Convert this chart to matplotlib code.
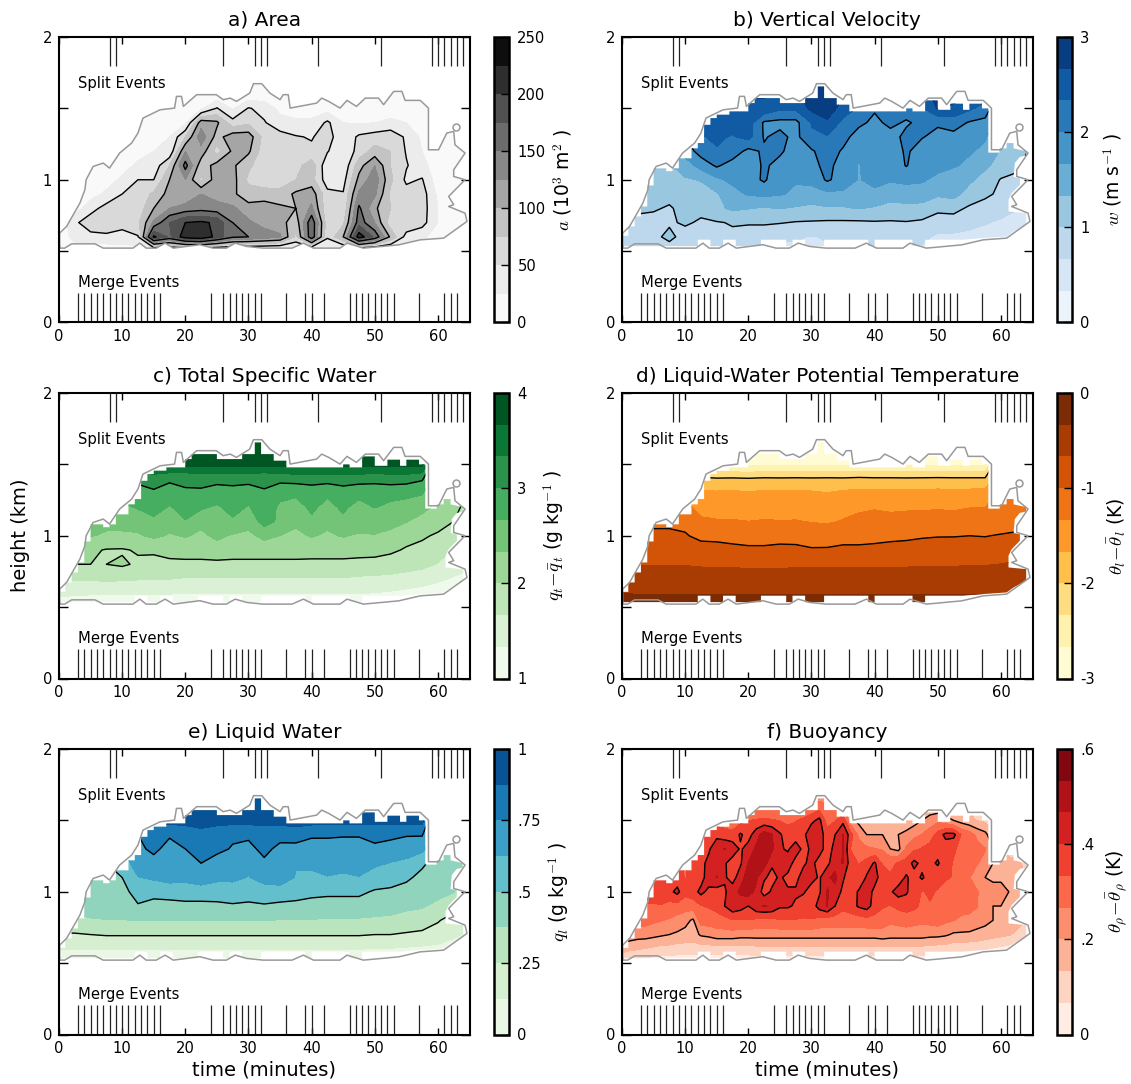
import numpy as np
import matplotlib
matplotlib.use("Agg")
import matplotlib.pyplot as plt
from matplotlib.patches import Polygon

plt.rcParams.update({
    "font.family": "DejaVu Sans",
    "mathtext.fontset": "cm",
    "mathtext.default": "it",
    "axes.linewidth": 1.5,
    "contour.negative_linestyle": "solid",
})

heights = np.arange(0.5, 1.71, 0.1)

split_events = [8, 9, 26, 31, 32, 33, 41, 51, 59, 60, 61, 62, 63, 64, 65]
merge_events = [3, 4, 5, 6, 7, 8, 9, 10, 11, 12, 13, 14, 15, 16, 24, 26, 27, 28, 29, 30, 31, 32,
                36, 39, 40, 42, 46, 47, 48, 49, 50, 51, 52, 53, 57, 61, 62, 63]

# cloud outline, time (min) and height (km)
outline_t = [0.1, 0.1, 1.2, 2.1, 3.3, 4.1, 4.3, 5.4, 7.0, 8.0, 9.6, 11.5, 12.5, 13.3, 16, 18.3, 18.6, 19.4,
             19.7, 21.8, 24.9, 26, 27.1, 28.1, 30.2, 30.8, 32.1, 33.4, 35, 35.5, 36.3, 36.6, 40.8, 41.6,
             42.7, 44.5, 45.6, 47.1, 48.5, 50.6, 51.4, 53, 54.3, 54.8, 57.2, 58.5, 58.5, 60.1, 61.4,
             62.5, 62.7, 64.3, 62.5, 62.5, 64.3, 61.7, 62.5, 61.7, 64.3, 64.6, 60.9, 57.2, 53.8, 48.2,
             45.6, 44.5, 40.3, 38.7, 36.9, 32.3, 29.7, 27.9, 26.5, 24.4, 22.3, 18.1, 16.8, 15.4, 13.8,
             12.8, 11.7, 7, 5.7, 2, 0.9, 0.1]
outline_z = [.533, .626, .673, .743, .836, .93, 1.0, 1.093, 1.117, 1.082, 1.187, 1.257, 1.327, 1.432, 1.49,
             1.502, 1.584, 1.584, 1.514, 1.596, 1.596, 1.561, 1.572, 1.549, 1.607, 1.673, 1.673, 1.607,
             1.561, 1.596, 1.596, 1.502, 1.537, 1.572, 1.549, 1.502, 1.556, 1.514, 1.572, 1.572, 1.526,
             1.619, 1.619, 1.556, 1.556, 1.502, 1.21, 1.21, 1.327, 1.339, 1.245, 1.187, 1.07, 1.023, 1.0,
             .883, .825, .813, .766, .708, .591, .579, .544, .521, .556, .521, .521, .556, .521, .521,
             .533, .556, .521, .521, .545, .521, .556, .521, .521, .556, .521, .521, .551, .551, .521, .521]
bubble_t = [62.9]
bubble_z = [1.37]

# top and bottom of the filled cells, one value per minute
fill_top = [.607, .673, .743, .813, .96, 1.08, 1.08, 1.06, 1.08, 1.15, 1.15, 1.22, 1.257, 1.385, 1.432, 1.456,
            1.456, 1.479, 1.479, 1.479, 1.537, 1.572, 1.572, 1.572, 1.572, 1.537, 1.537, 1.537, 1.537, 1.572,
            1.572, 1.654, 1.572, 1.572, 1.526, 1.526, 1.479, 1.479, 1.479, 1.479, 1.479, 1.479, 1.479, 1.479,
            1.479, 1.50, 1.479, 1.479, 1.556, 1.556, 1.49, 1.49, 1.533, 1.533, 1.49, 1.533, 1.533, 1.50]
fill_bot = [.535, .535, .535, .535, .535, .535, .535, .535, .535, .535, .535, .535, .58, .58, .535, .535, .58, .58,
            .535, .535, .535, .535, .58, .58, .58, .58, .535, .58, .58, .535, .535, .535, .58, .58, .58, .58, .58,
            .58, .58, .535, .58, .58, .58, .58, .58, .58, .535, .535, .58, .58, .58, .58, .58, .58]
edge_t = [58, 59.8, 59.8, 60.9, 60.9, 62, 62, 64, 64, 63, 62.2, 62, 63, 63, 61.7, 61.2, 61.2, 64, 64, 62, 60.9, 56.7, 54]
edge_z = [1.19, 1.19, 1.22, 1.22, 1.257, 1.257, 1.22, 1.2, 1.17, 1.16, 1.117, 1.02, 1.01, .965, .906, .86, .778,
          .766, .685, .638, .603, .59, .58]

# fields: first row is the lowest height, columns run over time
area = [
    [5, 8, 8, 8, 8, 10, 0, 0, 0, 0, 0, 0, 0, 0, 0, 15, 0, 10, 10, 0, 0, 10, 8, 5, 3, 1, 0],
    [6, 35, 42, 42, 45, 48, 205, 170, 215, 225, 190, 155, 150, 140, 130, 70, 170, 55, 100, 215, 170, 95, 40, 30, 15, 2, 0],
    [4, 45, 65, 75, 55, 70, 130, 175, 200, 205, 195, 150, 130, 115, 110, 85, 170, 60, 70, 165, 125, 60, 70, 60, 25, 6, 1],
    [3, 12, 40, 60, 70, 60, 100, 125, 135, 140, 135, 130, 110, 110, 105, 100, 130, 55, 55, 155, 105, 75, 65, 62, 25, 8, 1],
    [1, 3, 15, 30, 50, 60, 80, 110, 105, 125, 115, 105, 85, 90, 85, 105, 115, 58, 52, 130, 130, 70, 60, 62, 20, 5, 1],
    [1, 2, 8, 14, 30, 50, 50, 100, 125, 70, 115, 110, 70, 55, 60, 75, 85, 35, 40, 108, 140, 80, 45, 52, 10, 4, 1],
    [1, 1, 3, 8, 15, 30, 35, 75, 160, 85, 110, 105, 80, 60, 62, 65, 90, 30, 30, 90, 125, 75, 52, 35, 8, 3, 1],
    [1, 1, 2, 4, 8, 15, 25, 30, 125, 115, 65, 105, 105, 60, 60, 55, 55, 52, 28, 60, 85, 75, 48, 25, 5, 2, 1],
    [1, 1, 1, 2, 4, 8, 18, 25, 75, 140, 90, 115, 115, 65, 60, 52, 48, 62, 30, 55, 62, 70, 45, 20, 4, 2, 1],
    [1, 1, 1, 1, 2, 4, 14, 18, 20, 115, 105, 60, 70, 52, 35, 30, 30, 55, 25, 22, 25, 28, 25, 15, 2, 1, 1],
    [1, 1, 1, 1, 1, 1, 8, 10, 14, 20, 52, 22, 52, 42, 18, 12, 14, 14, 12, 16, 18, 18, 16, 12, 2, 1, 1],
    [1, 1, 1, 1, 1, 1, 1, 2, 4, 6, 6, 6, 6, 6, 4, 3, 3, 3, 3, 5, 6, 6, 6, 3, 1, 1, 1],
    [1, 1, 1, 1, 1, 1, 1, 1, 1, 1, 1, 1, 1, 1, 1, 1, 1, 1, 1, 1, 1, 1, 1, 1, 1, 1, 1],
]

velocity = [
    [.7, .7, .7, .8, .7, .6, .7, .7, .6, .6, .6, .6, .5, .6, .6, .7, .7, .6, .6, .6, .5, .5, .5, .4, .4, .3, .2],
    [.8, .8, .9, 1.1, .85, .8, .9, .95, .75, .75, .7, .7, .65, .7, .75, .8, .85, .7, .7, .75, .6, .6, .55, .5, .45, .4, .3],
    [.9, .85, .85, .95, 1.05, .95, .98, 1.02, 1.05, 1.05, 1.02, .98, .97, .95, .95, .95, .97, .97, .98, .95, .9, .85, .8, .7, .6, .45, .3],
    [1.1, 1.1, 1.05, .95, 1.15, 1.1, 1.25, 1.4, 1.35, 1.3, 1.35, 1.3, 1.25, 1.3, 1.3, 1.35, 1.3, 1.2, 1.25, 1.2, 1.05, 1.1, .95, .9, .85, .7, .5],
    [1.1, 1.1, 1.1, 1.15, 1.2, 1.2, 1.3, 1.55, 1.7, 1.75, 1.7, 1.6, 1.55, 1.6, 1.6, 1.55, 1.6, 1.5, 1.5, 1.55, 1.4, 1.45, 1.2, 1.05, .95, .85, .6],
    [1.1, 1.1, 1.1, 1.15, 1.3, 1.35, 1.6, 1.75, 1.85, 2.05, 1.75, 1.7, 1.75, 2.05, 1.85, 1.65, 1.75, 1.7, 1.75, 1.7, 1.6, 1.5, 1.4, 1.2, .98, .9, .7],
    [1.2, 1.2, 1.2, 1.3, 1.5, 1.8, 2.05, 1.85, 1.8, 2.05, 1.9, 1.75, 1.9, 2.1, 1.85, 1.65, 1.85, 1.75, 2.02, 1.8, 1.75, 1.7, 1.6, 1.4, 1.2, 1.1, .8],
    [1.3, 1.3, 1.3, 1.5, 1.8, 2.15, 2.3, 2.2, 1.9, 2.05, 2.05, 1.85, 1.95, 2.2, 1.95, 1.7, 1.8, 1.8, 2.05, 1.85, 1.85, 1.8, 1.7, 1.6, 1.3, 1.2, .9],
    [1.4, 1.4, 1.5, 1.8, 2.0, 2.3, 2.4, 2.3, 2.45, 1.97, 2.1, 1.9, 2.3, 2.3, 2.15, 1.8, 1.85, 1.85, 2.1, 2.02, 1.9, 1.9, 1.9, 1.7, 1.4, 1.2, .9],
    [1.5, 1.5, 1.7, 2.0, 2.2, 2.5, 2.55, 2.5, 2.5, 1.95, 1.9, 1.9, 2.35, 2.6, 2.25, 2.1, 1.9, 2.1, 1.95, 2.1, 2.05, 2.15, 1.97, 1.9, 1.5, 1.2, .9],
    [1.6, 1.6, 1.8, 2.1, 2.3, 2.5, 2.5, 2.5, 2.55, 2.6, 2.4, 2.4, 2.75, 2.9, 2.5, 2.3, 2.05, 2.2, 2.2, 2.3, 2.7, 2.6, 2.4, 2.2, 1.6, 1.2, .9],
    [1.6, 1.6, 1.8, 2.1, 2.3, 2.5, 2.6, 2.6, 2.7, 2.7, 2.6, 2.6, 2.9, 2.95, 2.7, 2.5, 2.3, 2.4, 2.4, 2.5, 2.8, 2.8, 2.8, 2.5, 1.6, 1.2, .9],
    [1.6, 1.6, 1.8, 2.1, 2.3, 2.5, 2.6, 2.6, 2.7, 2.7, 2.7, 2.7, 2.9, 2.95, 2.7, 2.5, 2.3, 2.4, 2.4, 2.5, 2.8, 2.8, 2.8, 2.5, 1.6, 1.2, .9],
]

water = [
    [1.05, 1.05, 1.05, 1.05, 1.05, 1.05, 1.05, 1.05, 1.05, 1.05, 1.05, 1.05, 1.05, 1.05, 1.05, 1.05, 1.05, 1.05, 1.05, 1.05, 1.05, 1.03, 1.02, 1.01, 1.0, 1.0, 1.0],
    [1.45, 1.4, 1.38, 1.37, 1.36, 1.36, 1.36, 1.36, 1.35, 1.35, 1.35, 1.35, 1.35, 1.35, 1.35, 1.35, 1.35, 1.35, 1.35, 1.35, 1.33, 1.3, 1.25, 1.2, 1.15, 1.05, 1.0],
    [1.7, 1.7, 1.7, 1.75, 1.72, 1.7, 1.7, 1.68, 1.65, 1.65, 1.65, 1.65, 1.65, 1.65, 1.65, 1.65, 1.65, 1.65, 1.65, 1.62, 1.6, 1.58, 1.55, 1.5, 1.4, 1.3, 1.2],
    [2.0, 2.0, 2.0, 2.0, 2.05, 1.95, 1.9, 1.92, 1.92, 1.92, 1.92, 1.92, 1.92, 1.92, 1.92, 1.92, 1.92, 1.92, 1.92, 1.9, 1.9, 1.87, 1.8, 1.75, 1.65, 1.55, 1.4],
    [2.2, 2.2, 2.05, 1.98, 1.97, 2.03, 2.05, 2.12, 2.15, 2.15, 2.2, 2.15, 2.15, 2.15, 2.15, 2.15, 2.13, 2.13, 2.13, 2.12, 2.1, 2.05, 1.97, 1.9, 1.8, 1.65, 1.4],
    [2.3, 2.3, 2.35, 2.3, 2.3, 2.3, 2.4, 2.3, 2.36, 2.27, 2.4, 2.3, 2.26, 2.42, 2.33, 2.26, 2.36, 2.28, 2.36, 2.28, 2.32, 2.2, 2.1, 2.05, 1.95, 1.8, 1.5],
    [2.4, 2.4, 2.4, 2.4, 2.4, 2.45, 2.6, 2.5, 2.65, 2.42, 2.55, 2.62, 2.45, 2.8, 2.6, 2.4, 2.62, 2.42, 2.6, 2.58, 2.45, 2.5, 2.35, 2.2, 2.15, 2.0, 1.7],
    [2.5, 2.5, 2.5, 2.5, 2.6, 2.7, 2.8, 2.64, 2.8, 2.72, 2.62, 2.78, 2.64, 2.88, 2.6, 2.56, 2.72, 2.58, 2.72, 2.56, 2.68, 2.58, 2.55, 2.45, 2.25, 2.15, 1.8],
    [2.6, 2.6, 2.6, 2.7, 2.8, 2.85, 2.95, 2.88, 2.97, 2.95, 2.86, 2.9, 2.85, 2.98, 2.78, 2.72, 2.82, 2.72, 2.86, 2.76, 2.82, 2.8, 2.75, 2.7, 2.3, 2.2, 1.8],
    [2.7, 2.7, 2.7, 2.9, 3.0, 3.1, 3.15, 3.05, 3.05, 3.1, 3.1, 3.1, 3.1, 3.05, 3.1, 3.15, 3.15, 3.15, 3.15, 3.15, 3.1, 3.15, 3.15, 3.05, 2.4, 2.2, 1.8],
    [2.8, 2.8, 2.8, 3.0, 3.3, 3.6, 3.75, 3.75, 3.75, 3.75, 3.75, 3.75, 3.75, 3.75, 3.75, 3.75, 3.75, 3.75, 3.75, 3.75, 3.75, 3.75, 3.75, 3.75, 2.5, 2.2, 1.8],
    [2.9, 2.9, 2.9, 3.1, 3.4, 3.7, 3.95, 3.95, 3.95, 3.95, 3.95, 3.95, 3.95, 3.95, 3.95, 3.95, 3.95, 3.95, 3.95, 3.95, 3.95, 3.95, 3.95, 3.95, 2.5, 2.2, 1.8],
    [2.9, 2.9, 2.9, 3.1, 3.4, 3.7, 3.95, 3.95, 3.95, 3.95, 3.95, 3.95, 3.95, 3.95, 3.95, 3.95, 3.95, 3.95, 3.95, 3.95, 3.95, 3.95, 3.95, 3.95, 2.5, 2.2, 1.8],
]

theta = [
    [-.1, -.1, -.1, -.1, -.1, -.1, -.1, -.1, -.1, -.1, -.1, -.1, -.1, -.1, -.1, -.1, -.1, -.1, -.1, -.1, -.1, -.1, -.1, -.1, -.1, -.1, -.1],
    [-.34, -.36, -.36, -.36, -.36, -.36, -.36, -.36, -.36, -.36, -.36, -.36, -.36, -.36, -.36, -.36, -.36, -.36, -.36, -.36, -.36, -.36, -.36, -.37, -.38, -.4, -.4],
    [-.5, -.5, -.5, -.52, -.52, -.52, -.53, -.53, -.53, -.53, -.53, -.53, -.53, -.53, -.53, -.53, -.53, -.53, -.53, -.53, -.53, -.52, -.52, -.52, -.5, -.48, -.45],
    [-.68, -.68, -.68, -.68, -.68, -.7, -.71, -.71, -.72, -.72, -.72, -.71, -.71, -.71, -.71, -.71, -.7, -.7, -.7, -.69, -.69, -.69, -.68, -.68, -.66, -.62, -.58],
    [-.82, -.84, -.86, -.86, -.87, -.9, -.92, -.94, -.96, -.96, -.95, -.95, -.98, -.98, -.96, -.96, -.95, -.93, -.92, -.91, -.9, -.89, -.88, -.87, -.85, -.82, -.75],
    [-.95, -.95, -.98, -.97, -.98, -1.06, -1.06, -1.08, -1.09, -1.09, -1.07, -1.08, -1.1, -1.09, -1.07, -1.07, -1.06, -1.05, -1.04, -1.02, -1.01, -1.01, -1.0, -1.01, -.98, -.96, -.9],
    [-1.1, -1.05, -1.02, -1.03, -1.06, -1.26, -1.3, -1.31, -1.33, -1.31, -1.32, -1.31, -1.35, -1.38, -1.31, -1.26, -1.26, -1.25, -1.26, -1.25, -1.25, -1.25, -1.22, -1.2, -1.15, -1.1, -1.05],
    [-1.2, -1.2, -1.2, -1.2, -1.22, -1.48, -1.5, -1.47, -1.5, -1.47, -1.5, -1.52, -1.47, -1.55, -1.45, -1.38, -1.35, -1.38, -1.36, -1.36, -1.35, -1.36, -1.34, -1.33, -1.25, -1.2, -1.15],
    [-1.3, -1.3, -1.3, -1.4, -1.5, -1.6, -1.62, -1.6, -1.64, -1.6, -1.62, -1.6, -1.62, -1.66, -1.6, -1.58, -1.56, -1.58, -1.58, -1.58, -1.56, -1.58, -1.56, -1.55, -1.3, -1.25, -1.2],
    [-1.4, -1.4, -1.5, -1.7, -1.85, -1.95, -1.97, -1.96, -1.98, -1.95, -1.96, -1.95, -1.96, -1.95, -1.96, -1.93, -1.95, -1.95, -1.96, -1.95, -1.94, -1.95, -1.95, -1.95, -1.4, -1.3, -1.2],
    [-1.5, -1.5, -1.6, -1.9, -2.2, -2.5, -2.75, -2.75, -2.75, -2.75, -2.75, -2.75, -2.75, -2.75, -2.75, -2.75, -2.75, -2.75, -2.75, -2.75, -2.75, -2.75, -2.75, -2.75, -1.4, -1.3, -1.2],
    [-1.6, -1.6, -1.7, -2.0, -2.3, -2.6, -2.95, -2.95, -2.95, -2.95, -2.95, -2.95, -2.95, -2.95, -2.95, -2.95, -2.95, -2.95, -2.95, -2.95, -2.95, -2.95, -2.95, -2.95, -1.4, -1.3, -1.2],
    [-1.6, -1.6, -1.7, -2.0, -2.3, -2.6, -2.95, -2.95, -2.95, -2.95, -2.95, -2.95, -2.95, -2.95, -2.95, -2.95, -2.95, -2.95, -2.95, -2.95, -2.95, -2.95, -2.95, -2.95, -1.4, -1.3, -1.2],
]

liquid = [
    [0, 0, 0, 0, 0, 0, 0, 0, 0, 0, 0, 0, 0, 0, 0, 0, 0, 0, 0, 0, 0, 0, 0, 0, 0, 0, 0],
    [.13, .13, .13, .13, .13, .13, .13, .13, .13, .13, .13, .13, .13, .13, .13, .13, .13, .13, .13, .13, .12, .12, .11, .1, .09, .06, .03],
    [.24, .24, .25, .26, .26, .26, .26, .26, .26, .26, .26, .26, .26, .26, .26, .26, .26, .26, .26, .26, .25, .25, .24, .23, .2, .15, .1],
    [.33, .34, .36, .37, .37, .38, .38, .38, .38, .38, .38, .38, .38, .38, .37, .37, .37, .36, .36, .36, .35, .34, .31, .3, .26, .2, .15],
    [.42, .43, .45, .46, .47, .49, .48, .47, .47, .47, .47, .49, .48, .49, .47, .47, .46, .46, .46, .46, .45, .44, .41, .39, .34, .3, .22],
    [.45, .46, .45, .45, .46, .55, .52, .54, .56, .56, .57, .55, .55, .56, .58, .55, .53, .52, .52, .52, .49, .48, .46, .44, .42, .38, .3],
    [.45, .47, .47, .47, .5, .62, .65, .68, .66, .7, .65, .66, .62, .68, .68, .62, .6, .62, .6, .62, .56, .55, .52, .47, .42, .45, .3],
    [.47, .47, .48, .5, .55, .7, .72, .74, .73, .75, .7, .69, .65, .73, .71, .63, .65, .67, .68, .68, .65, .62, .6, .52, .45, .45, .3],
    [.5, .5, .5, .55, .62, .73, .77, .72, .75, .8, .78, .74, .72, .78, .72, .7, .66, .72, .7, .7, .73, .7, .68, .66, .5, .45, .3],
    [.5, .5, .55, .6, .7, .75, .78, .76, .8, .84, .8, .77, .77, .8, .79, .82, .78, .76, .76, .76, .78, .78, .76, .76, .5, .45, .3],
    [.5, .5, .55, .65, .75, .85, .9, .92, .92, .92, .92, .92, .92, .92, .92, .92, .92, .92, .92, .92, .92, .92, .92, .92, .5, .45, .3],
    [.5, .5, .55, .65, .8, .9, .97, .97, .97, .97, .97, .97, .97, .97, .97, .97, .97, .97, .97, .97, .97, .97, .97, .97, .5, .45, .3],
    [.5, .5, .55, .65, .8, .9, .97, .97, .97, .97, .97, .97, .97, .97, .97, .97, .97, .97, .97, .97, .97, .97, .97, .97, .5, .45, .3],
]

# buoyancy is read on a finer time step because of its narrow streaks
buoyancy = [
    [.03, .03, .03, .03, .02, .02, .02, .02, .02, .02, .02, .02, .02, .02, .02, .02, .02, .02, .02, .02, .02, .02, .02, .02, .02, .02, .02,
     .02, .02, .02, .02, .02, .02, .02, .02, .02, .02, .02, .02, .02, .02, .02, .02, .02, .02, .02, .02, .02, .01, .01, .01, .01, .01],
    [.17, .15, .14, .13, .12, .11, .11, .1, .1, .1, .1, .1, .1, .1, .1, .1, .1, .11, .11, .11, .11, .11, .11, .11, .11, .11, .11,
     .11, .11, .11, .11, .11, .11, .11, .11, .11, .11, .11, .11, .11, .1, .1, .09, .09, .08, .08, .07, .06, .05, .04, .03, .02, .02],
    [.24, .24, .23, .23, .22, .21, .2, .19, .18, .17, .21, .22, .24, .24, .24, .23, .23, .23, .23, .23, .23, .23, .23, .23, .23, .23, .23,
     .23, .23, .23, .23, .23, .23, .24, .23, .23, .23, .23, .23, .22, .22, .21, .19, .19, .19, .18, .17, .16, .15, .14, .12, .1, .07],
    [.3, .3, .3, .29, .28, .27, .26, .24, .22, .19, .3, .3, .3, .31, .33, .33, .33, .32, .31, .31, .33, .33, .33, .33, .33, .31, .3,
     .3, .3, .3, .3, .31, .31, .3, .28, .29, .3, .29, .28, .29, .3, .28, .27, .25, .24, .23, .22, .2, .17, .18, .16, .14, .08],
    [.33, .33, .33, .33, .33, .33, .31, .31, .3, .3, .33, .34, .36, .4, .45, .43, .4, .45, .47, .46, .41, .41, .39, .35, .36, .43, .47,
     .4, .35, .37, .41, .43, .37, .34, .33, .35, .36, .35, .32, .33, .33, .31, .3, .3, .3, .27, .22, .2, .2, .18, .16, .13, .1],
    [.33, .33, .34, .35, .35, .36, .38, .42, .35, .37, .42, .38, .37, .39, .44, .48, .5, .45, .37, .41, .45, .41, .41, .41, .36, .39, .47,
     .45, .38, .36, .41, .44, .38, .35, .39, .43, .41, .36, .33, .34, .33, .31, .3, .3, .3, .27, .24, .22, .22, .2, .19, .15, .1],
    [.33, .33, .33, .33, .33, .34, .37, .36, .33, .35, .37, .44, .47, .41, .37, .44, .5, .48, .41, .38, .41, .38, .38, .43, .43, .39, .46,
     .48, .41, .35, .34, .41, .43, .36, .34, .36, .41, .37, .41, .37, .35, .34, .33, .3, .27, .24, .2, .19, .19, .18, .18, .14, .1],
    [.33, .33, .33, .33, .33, .33, .35, .34, .33, .35, .38, .42, .45, .41, .36, .39, .47, .5, .5, .41, .45, .44, .37, .39, .42, .37, .38,
     .45, .47, .36, .33, .36, .41, .33, .32, .34, .36, .42, .38, .38, .41, .35, .33, .31, .3, .27, .25, .2, .18, .16, .15, .12, .1],
    [.3, .3, .3, .3, .3, .3, .3, .3, .3, .33, .37, .39, .45, .47, .45, .39, .43, .48, .52, .48, .41, .39, .44, .38, .41, .43, .37,
     .42, .47, .33, .3, .28, .27, .26, .2, .18, .28, .32, .34, .36, .37, .36, .34, .32, .3, .29, .27, .2, .15, .1, .1, .1, .1],
    [.3, .3, .3, .3, .3, .3, .3, .3, .3, .3, .32, .36, .38, .36, .35, .41, .37, .44, .5, .47, .41, .36, .36, .38, .46, .43, .37,
     .4, .47, .36, .25, .2, .2, .2, .18, .2, .22, .25, .27, .3, .36, .42, .42, .33, .3, .25, .22, .15, .1, .1, .1, .1, .1],
    [.3, .3, .3, .3, .3, .3, .3, .3, .3, .3, .3, .3, .3, .3, .3, .31, .33, .34, .35, .34, .33, .32, .33, .35, .38, .42, .3,
     .33, .38, .22, .18, .18, .2, .18, .16, .15, .15, .17, .2, .23, .25, .22, .2, .17, .15, .13, .12, .1, .1, .1, .1, .1, .1],
    [.3, .3, .3, .3, .3, .3, .3, .3, .3, .3, .3, .3, .25, .25, .25, .25, .25, .25, .25, .25, .25, .25, .25, .26, .28, .3, .28,
     .27, .25, .15, .15, .15, .15, .15, .15, .15, .15, .15, .15, .15, .15, .15, .15, .13, .12, .11, .1, .1, .1, .1, .1, .1, .1],
    [.3, .3, .3, .3, .3, .3, .3, .3, .3, .3, .3, .3, .2, .2, .2, .2, .2, .2, .2, .2, .2, .2, .2, .2, .2, .2, .2,
     .2, .2, .1, .1, .1, .1, .1, .1, .1, .1, .1, .1, .1, .1, .1, .1, .1, .1, .1, .1, .1, .1, .1, .1, .1, .1],
]

panels = [
    ("a) Area", area, "Greys", 0, 250, 10, [50, 100, 150, 200], [0, 50, 100, 150, 200, 250],
     ["0", "50", "100", "150", "200", "250"], r"$a$ (10$^3$ m$^2$ )", 4.6),
    ("b) Vertical Velocity", velocity, "Blues", 0, 3, 9, [1, 2], [0, 1, 2, 3],
     ["0", "1", "2", "3"], r"$w$ (m s$^{-1}$ )", 3.7),
    ("c) Total Specific Water", water, "Greens", 1, 4, 9, [2, 3], [1, 2, 3, 4],
     ["1", "2", "3", "4"], r"$q_t\!-\!\bar{q}_t$ (g kg$^{-1}$ )", 4.0),
    ("d) Liquid-Water Potential Temperature", theta, "YlOrBr", -3, 0, 9, [-2, -1], [-3, -2, -1, 0],
     ["-3", "-2", "-1", "0"], r"$\theta_l\!-\!\bar{\theta}_l$ (K)", 4.0),
    ("e) Liquid Water", liquid, "GnBu", 0, 1, 8, [.25, .5, .75], [0, .25, .5, .75, 1],
     ["0", ".25", ".5", ".75", "1"], r"$q_l$ (g kg$^{-1}$ )", 4.3),
    ("f) Buoyancy", buoyancy, "Reds", 0, .6, 9, [.2, .4], [0, .2, .4, .6],
     ["0", ".2", ".4", ".6"], r"$\theta_\rho\!-\!\bar{\theta}_\rho$ (K)", 4.0),
]

W, H = 1131, 1084
fig = plt.figure(figsize=(W / 100, H / 100), dpi=100)

col_left = [59, 622]
row_top = [37, 393, 749]
ax_w, ax_h = 410.5, 285.5

# stepped polygon of the filled cells
fill_t, fill_z = [], []
for k, top in enumerate(fill_top):
    fill_t += [k, k + 1]
    fill_z += [top, top]
fill_t += edge_t
fill_z += edge_z
for k in range(len(fill_bot) - 1, -1, -1):
    fill_t += [k + 1, k]
    fill_z += [fill_bot[k], fill_bot[k]]

for n, (title, field, cmap, vmin, vmax, nbins, lines, cticks, clabels, clabel, label_x) in enumerate(panels):
    left = col_left[n % 2]
    top = row_top[n // 2]
    ax = fig.add_axes([left / W, 1 - (top + ax_h) / H, ax_w / W, ax_h / H])
    levels = np.linspace(vmin, vmax, nbins + 1)
    data = np.array(field)
    times = np.linspace(0, 65, data.shape[1])

    if n == 0:
        clip = Polygon(np.column_stack([outline_t, outline_z]), transform=ax.transData, fc="none", ec="none")
    else:
        clip = Polygon(np.column_stack([fill_t, fill_z]), transform=ax.transData, fc="none", ec="none")
    ax.add_patch(clip)

    cf = ax.contourf(times, heights, data, levels=levels, cmap=cmap, vmin=vmin, vmax=vmax)
    cf.set_clip_path(clip)
    cl = ax.contour(times, heights, data, levels=lines, colors="k", linewidths=1.0)
    cl.set_clip_path(clip)

    ax.plot(outline_t + outline_t[:1], outline_z + outline_z[:1], color="#999999", lw=1.1)
    ax.plot(bubble_t, bubble_z, "o", mfc="none", mec="#999999", mew=1.1, ms=5)

    ax.vlines(split_events, 1.795, 2, color="#222222", lw=0.9)
    ax.vlines(merge_events, 0, 0.205, color="#222222", lw=0.9)
    ax.text(3.0, 1.675, "Split Events", fontsize=10.6, va="center")
    ax.text(3.0, 0.28, "Merge Events", fontsize=10.6, va="center")

    ax.set_xlim(0, 65)
    ax.set_ylim(0, 2)
    ax.set_xticks(np.arange(0, 61, 10))
    ax.set_yticks([0, .5, 1, 1.5, 2])
    ax.set_yticklabels(["0", "", "1", "", "2"])
    ax.tick_params(direction="in", top=True, right=True, width=1, labelsize=10.6, pad=5)
    ax.tick_params(axis="x", length=5)
    ax.tick_params(axis="y", length=6.5)
    ax.set_title(title, fontsize=14.5, pad=8)
    if n == 2:
        ax.set_ylabel("height (km)", fontsize=14, labelpad=9)
    if n >= 4:
        ax.set_xlabel("time (minutes)", fontsize=14, labelpad=3)

    cax = fig.add_axes([(left + 435) / W, 1 - (top + ax_h) / H, 15 / W, ax_h / H])
    cb = fig.colorbar(cf, cax=cax)
    cb.set_ticks(cticks)
    cb.set_ticklabels(clabels)
    cb.minorticks_off()
    cax.tick_params(direction="in", length=6, width=1, labelsize=10.6, pad=6)
    cb.outline.set_linewidth(1.8)
    cb.set_label(clabel, fontsize=13.5)
    cax.yaxis.label.set_va("center")
    cax.yaxis.set_label_coords(label_x, 0.5)

fig.savefig("out.png", dpi=100)
